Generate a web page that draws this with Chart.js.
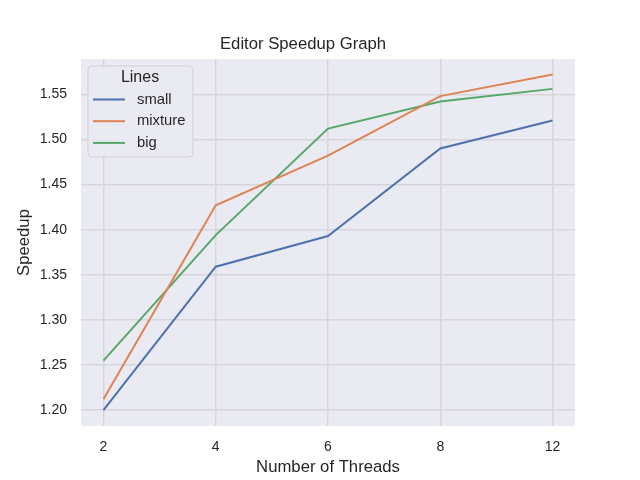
<!DOCTYPE html>
<html><head><meta charset="utf-8">
<script src="https://cdn.jsdelivr.net/npm/chart.js@4/dist/chart.umd.min.js"></script>
<style>html,body{margin:0;padding:0;background:#fff}#wrap{width:640px;height:480px}</style>
</head><body><div id="wrap"><canvas id="c" width="640" height="480"></canvas></div>
<script>
const chartTitle = 'Editor Speedup Graph';
const xTitle = 'Number of Threads';
const yTitle = 'Speedup';
const legendTitle = 'Lines';
const threads = ['2', '4', '6', '8', '12'];
const seriesNames = ['small', 'mixture', 'big'];
const small = [1.200, 1.359, 1.393, 1.490, 1.521];
const mixture = [1.212, 1.427, 1.482, 1.548, 1.572];
const big = [1.255, 1.394, 1.512, 1.542, 1.556];
const yTicks = [1.20, 1.25, 1.30, 1.35, 1.40, 1.45, 1.50, 1.55];
const colors = ['#4C72B0', '#DD8452', '#55A868'];

const FONT = "'Liberation Sans', Arial, sans-serif";
const TEXT = '#262626';
const GRID = '#d6d6da';
const BG = '#EAEAF2';

const toPts = arr => arr.map((v, i) => ({ x: i, y: v }));
const seriesVals = [small, mixture, big];

const bgPlugin = {
  id: 'bgPlugin',
  beforeDraw(chart) {
    const { ctx, chartArea: a } = chart;
    ctx.save();
    ctx.fillStyle = '#ffffff';
    ctx.fillRect(0, 0, chart.width, chart.height);
    ctx.fillStyle = BG;
    ctx.fillRect(a.left, a.top, a.right - a.left, a.bottom - a.top);
    ctx.restore();
  },
  afterDraw(chart) {
    const { ctx } = chart;
    ctx.save();
    // title
    ctx.fillStyle = TEXT;
    ctx.font = '16.7px ' + FONT;
    ctx.textAlign = 'center';
    ctx.textBaseline = 'middle';
    ctx.fillText(chartTitle, 303, 44);
    // legend box
    const bx = 88, by = 66, bw = 105, bh = 91, r = 4;
    ctx.beginPath();
    ctx.moveTo(bx + r, by);
    ctx.arcTo(bx + bw, by, bx + bw, by + bh, r);
    ctx.arcTo(bx + bw, by + bh, bx, by + bh, r);
    ctx.arcTo(bx, by + bh, bx, by, r);
    ctx.arcTo(bx, by, bx + bw, by, r);
    ctx.closePath();
    ctx.fillStyle = 'rgba(234,234,242,0.85)';
    ctx.fill();
    ctx.strokeStyle = '#d0d0d4';
    ctx.lineWidth = 1;
    ctx.stroke();
    ctx.fillStyle = TEXT;
    ctx.font = '16px ' + FONT;
    ctx.textAlign = 'center';
    ctx.fillText(legendTitle, 140, 77.5);
    ctx.font = '14.8px ' + FONT;
    ctx.textAlign = 'left';
    chart.data.datasets.forEach((ds, i) => {
      const y = 99.5 + i * 21.7;
      ctx.strokeStyle = ds.borderColor;
      ctx.lineWidth = 2;
      ctx.beginPath();
      ctx.moveTo(93, y);
      ctx.lineTo(125, y);
      ctx.stroke();
      ctx.fillStyle = TEXT;
      ctx.fillText(ds.label, 137, y);
    });
    ctx.restore();
  }
};

new Chart(document.getElementById('c'), {
  type: 'line',
  data: {
    datasets: seriesNames.map((n, i) => ({
      label: n,
      data: toPts(seriesVals[i]),
      borderColor: colors[i],
      backgroundColor: colors[i],
      borderWidth: 2,
      pointRadius: 0,
      tension: 0,
      fill: false
    }))
  },
  options: {
    responsive: false,
    devicePixelRatio: 1,
    animation: false,
    layout: { padding: { top: 59, right: 65, left: 0, bottom: 0 } },
    plugins: {
      legend: { display: false },
      title: { display: false },
      tooltip: { enabled: false }
    },
    scales: {
      x: {
        type: 'linear',
        min: -0.2,
        max: 4.2,
        afterBuildTicks: s => { s.ticks = threads.map((t, i) => ({ value: i })); },
        afterFit: s => { s.height = 54; },
        ticks: {
          callback: v => threads[v],
          color: TEXT,
          font: { family: FONT, size: 14 },
          padding: 13,
          maxRotation: 0,
          autoSkip: false
        },
        grid: { color: GRID, lineWidth: 1.5, drawTicks: false },
        border: { display: false },
        title: {
          display: true, text: xTitle, color: TEXT,
          font: { family: FONT, size: 16.7 }, padding: { top: 0, bottom: 3 }
        }
      },
      y: {
        type: 'linear',
        min: 1.1825,
        max: 1.5891,
        afterBuildTicks: s => { s.ticks = yTicks.map(v => ({ value: v })); },
        afterFit: s => { s.width = 81; },
        ticks: {
          callback: v => v.toFixed(2),
          color: TEXT,
          font: { family: FONT, size: 14 },
          padding: 14
        },
        grid: { color: GRID, lineWidth: 1.5, drawTicks: false },
        border: { display: false },
        title: {
          display: true, text: yTitle, color: TEXT,
          font: { family: FONT, size: 16.7 }, padding: { top: 14, bottom: 0 }
        }
      }
    }
  },
  plugins: [bgPlugin]
});
</script>
</body></html>
